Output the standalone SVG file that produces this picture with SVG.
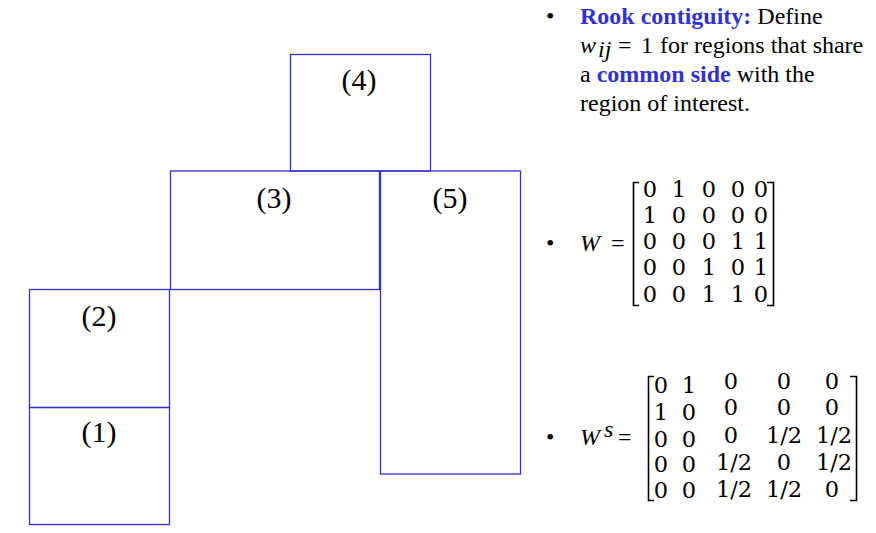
<svg xmlns="http://www.w3.org/2000/svg" width="876" height="533" viewBox="0 0 876 533">
<style>
.box{fill:none;stroke:#3333cc;stroke-width:1.3}
.lbl{font-family:"Liberation Serif","Times New Roman",serif;font-size:30px;fill:#000;text-anchor:middle}
.tx{font-family:"Liberation Serif","Times New Roman",serif;font-size:24px;fill:#000}
.bl{fill:#3333cc;font-weight:bold}
.it{font-style:italic}
.m{font-family:"DejaVu Serif","Liberation Serif",serif;font-size:22.5px;fill:#000;text-anchor:middle}
.br{fill:none;stroke:#000;stroke-width:1.6}
</style>
<rect width="876" height="533" fill="#fff"/>
<g id="region4"><rect class="box" x="290.5" y="54.5" width="140" height="116.5"/><text class="lbl" x="359" y="90">(4)</text></g>
<g id="region3"><rect class="box" x="170.5" y="171" width="209" height="118.5"/><text class="lbl" x="274" y="207.5">(3)</text></g>
<g id="region5"><rect class="box" x="380.5" y="171" width="140" height="303"/><text class="lbl" x="450" y="207.5">(5)</text></g>
<g id="region2"><rect class="box" x="29.5" y="289.5" width="140" height="118"/><text class="lbl" x="99" y="325.5">(2)</text></g>
<g id="region1"><rect class="box" x="29.5" y="407.5" width="140" height="117"/><text class="lbl" x="99" y="442">(1)</text></g>
<g id="connectors"/>
<g id="definition">
<text class="tx" x="546" y="24">•</text>
<text class="tx" x="580" y="24"><tspan class="bl">Rook contiguity:</tspan> Define</text>
<text class="tx it" x="580" y="53">w</text>
<text class="tx it" x="598" y="57" font-size="16">ij</text>
<text class="tx" x="618" y="53" font-size="26">=</text>
<text class="tx" x="641" y="53">1</text>
<text class="tx" x="660" y="53">for regions that share</text>
<text class="tx" x="580" y="82">a <tspan class="bl">common side</tspan> with the</text>
<text class="tx" x="580" y="111">region of interest.</text>
</g>
<g id="matrixW">
<text class="tx" x="546" y="251">•</text>
<text class="tx it" x="580" y="251" font-size="26">W</text>
<text class="tx" x="611" y="251" font-size="27">=</text>
<path class="br" d="M639,182.5H633.5V305.5H639"/>
<path class="br" d="M767,182.5H773.5V305.5H767"/>
<g class="m">
<text x="650" y="196.5">0</text><text x="679" y="196.5">1</text><text x="709" y="196.5">0</text><text x="738" y="196.5">0</text><text x="761" y="196.5">0</text>
<text x="650" y="222.8">1</text><text x="679" y="222.8">0</text><text x="709" y="222.8">0</text><text x="738" y="222.8">0</text><text x="761" y="222.8">0</text>
<text x="650" y="249.1">0</text><text x="679" y="249.1">0</text><text x="709" y="249.1">0</text><text x="738" y="249.1">1</text><text x="761" y="249.1">1</text>
<text x="650" y="275.4">0</text><text x="679" y="275.4">0</text><text x="709" y="275.4">1</text><text x="738" y="275.4">0</text><text x="761" y="275.4">1</text>
<text x="650" y="301.7">0</text><text x="679" y="301.7">0</text><text x="709" y="301.7">1</text><text x="738" y="301.7">1</text><text x="761" y="301.7">0</text>
</g>
</g>
<g id="matrixWs">
<text class="tx" x="546" y="445">•</text>
<text class="tx it" x="580" y="445" font-size="26">W</text>
<text class="tx it" x="604" y="437" font-size="15">s</text>
<text class="tx" x="618" y="445" font-size="27">=</text>
<path class="br" d="M654,376.5H648.5V500.5H654"/>
<path class="br" d="M850,376.5H856.5V500.5H850"/>
<g class="m">
<text x="661" y="393">0</text><text x="689" y="393">1</text><text x="731" y="388.5">0</text><text x="784" y="388.5">0</text><text x="832" y="388.5">0</text>
<text x="661" y="419.5">1</text><text x="689" y="419.5">0</text><text x="731" y="415">0</text><text x="784" y="415">0</text><text x="832" y="415">0</text>
<text x="661" y="447">0</text><text x="689" y="447">0</text><text x="731" y="443">0</text><text x="784" y="443">1/2</text><text x="834" y="443">1/2</text>
<text x="661" y="471.5">0</text><text x="689" y="471.5">0</text><text x="734" y="470">1/2</text><text x="784" y="470">0</text><text x="834" y="470">1/2</text>
<text x="661" y="498">0</text><text x="689" y="498">0</text><text x="734" y="496.5">1/2</text><text x="784" y="496.5">1/2</text><text x="832" y="496.5">0</text>
</g>
</g>
</svg>
